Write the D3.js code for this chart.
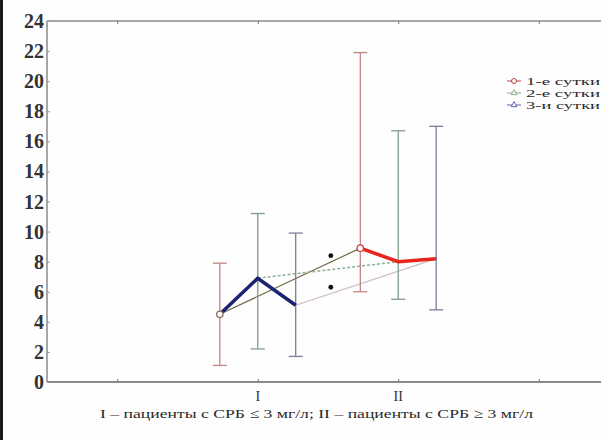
<!DOCTYPE html>
<html>
<head>
<meta charset="utf-8">
<script src="https://cdn.jsdelivr.net/npm/d3@7"></script>
<style>
  body { margin: 0; background: #fff; }
  svg { display: block; }
  text { font-family: "Liberation Serif", "Times New Roman", serif; }
</style>
</head>
<body>
<div id="grafica"></div>
<script>
// datos
var grupos = [1, 2];                 // I, II
var grupoEtiquetas = ["I", "II"];
var seriesNombres = ["1-е сутки", "2-е сутки", "3-и сутки"];
var medias = [[4.5, 8.9], [6.9, 8.0], [5.1, 8.2]];
var superiores = [[7.9, 21.9], [11.2, 16.7], [9.9, 17.0]];
var inferiores = [[1.1, 6.0], [2.2, 5.5], [1.7, 4.8]];
var asteriscos = [8.4, 6.3];
var yTicks = [0, 2, 4, 6, 8, 10, 12, 14, 16, 18, 20, 22, 24];
var xTicks = [0, 1, 2, 3];
var pie = "I – пациенты с СРБ ≤ 3 мг/л; II – пациенты с СРБ ≥ 3 мг/л";

var width = 601, height = 440;
var desplaz = [-0.27, 0, 0.27];
var colorBarra = ["#bf8585", "#7f9e86", "#7d7d9c"];
var colorLinea = ["#76684a", "#8fae90", "#cdb9c2"];
var colorLeyenda = ["#c04040", "#80b080", "#6060b0"];

var svg = d3.select("#grafica")
  .append("svg")
  .attr("width", width)
  .attr("height", height);

svg.append("rect").attr("width", width).attr("height", height).attr("fill", "#fefefe");
// franja oscura del borde izquierdo
svg.append("rect").attr("x", 0).attr("y", 0).attr("width", 3).attr("height", height).attr("fill", "#1a1a1a");

var x = d3.scaleLinear().domain([-0.5, 3.5]).range([47, 609]);
var y = d3.scaleLinear().domain([0, 24]).range([382, 21]);

// marco
svg.append("line").attr("x1", x(-0.5)).attr("x2", width).attr("y1", y(24)).attr("y2", y(24))
  .attr("stroke", "#8a8a8a").attr("stroke-width", 1.5);
svg.append("line").attr("x1", x(-0.5)).attr("x2", width).attr("y1", y(0)).attr("y2", y(0))
  .attr("stroke", "#8a8a8a").attr("stroke-width", 2);
svg.append("line").attr("x1", x(-0.5)).attr("x2", x(-0.5)).attr("y1", y(24)).attr("y2", y(0))
  .attr("stroke", "#8a8a8a").attr("stroke-width", 1.5);

// eje y
var ejeY = svg.append("g").attr("transform", "translate(" + x(-0.5) + ",0)")
  .call(d3.axisRight(y).tickValues(yTicks).tickSize(3).tickFormat(""));
ejeY.select(".domain").remove();
ejeY.selectAll("line").attr("stroke", "#999");
svg.selectAll("ylab")
  .data(yTicks)
  .enter()
  .append("text")
  .attr("x", x(-0.5) - 3)
  .attr("y", function (d) { return y(d); })
  .attr("text-anchor", "end")
  .attr("dominant-baseline", "central")
  .style("font-size", "20px")
  .style("font-weight", "bold")
  .style("fill", "#333")
  .text(function (d) { return d; });

// marcas de x arriba y abajo
svg.append("g").attr("transform", "translate(0," + y(0) + ")")
  .call(d3.axisTop(x).tickValues(xTicks).tickSize(3).tickFormat(""))
  .call(function (g) { g.select(".domain").remove(); g.selectAll("line").attr("stroke", "#777"); });
svg.append("g").attr("transform", "translate(0," + y(24) + ")")
  .call(d3.axisBottom(x).tickValues(xTicks).tickSize(3).tickFormat(""))
  .call(function (g) { g.select(".domain").remove(); g.selectAll("line").attr("stroke", "#777"); });

svg.selectAll("xlab")
  .data(grupos)
  .enter()
  .append("text")
  .attr("x", function (d) { return x(d); })
  .attr("y", 396)
  .attr("text-anchor", "middle")
  .attr("dominant-baseline", "central")
  .style("font-size", "14px")
  .style("fill", "#333")
  .text(function (d, i) { return grupoEtiquetas[i]; });

svg.append("text")
  .attr("x", 100)
  .attr("y", 413)
  .attr("dominant-baseline", "central")
  .attr("textLength", 433)
  .attr("lengthAdjust", "spacingAndGlyphs")
  .style("font-size", "13px")
  .style("fill", "#2a2a2a")
  .text(pie);

// líneas finas entre grupos I y II para cada día
seriesNombres.forEach(function (s, k) {
  svg.append("line")
    .attr("x1", x(grupos[0] + desplaz[k])).attr("y1", y(medias[k][0]))
    .attr("x2", x(grupos[1] + desplaz[k])).attr("y2", y(medias[k][1]))
    .attr("stroke", colorLinea[k])
    .attr("stroke-width", k === 1 ? 1.5 : 1.2)
    .attr("stroke-dasharray", k === 1 ? "3,2" : null);
});

// barras de error
seriesNombres.forEach(function (s, k) {
  grupos.forEach(function (g, j) {
    var cx = x(g + desplaz[k]);
    var gb = svg.append("g").attr("stroke", colorBarra[k]).attr("stroke-width", 1.3);
    gb.append("line").attr("x1", cx).attr("x2", cx).attr("y1", y(superiores[k][j])).attr("y2", y(inferiores[k][j]));
    gb.append("line").attr("x1", cx - 7).attr("x2", cx + 7).attr("y1", y(superiores[k][j])).attr("y2", y(superiores[k][j]));
    gb.append("line").attr("x1", cx - 7).attr("x2", cx + 7).attr("y1", y(inferiores[k][j])).attr("y2", y(inferiores[k][j]));
  });
});

// líneas gruesas dentro de cada grupo
var lineaGrupo = d3.line()
  .x(function (d) { return x(d.x); })
  .y(function (d) { return y(d.v); });
var coloresGrupo = ["#1c2370", "#e8241c"];
grupos.forEach(function (g, j) {
  var pts = seriesNombres.map(function (s, k) { return { x: g + desplaz[k], v: medias[k][j] }; });
  svg.append("path")
    .datum(pts)
    .attr("d", lineaGrupo)
    .attr("fill", "none")
    .attr("stroke", coloresGrupo[j])
    .attr("stroke-width", 3.5)
    .attr("stroke-linejoin", "miter");
});

// marcadores del primer día
grupos.forEach(function (g, j) {
  svg.append("circle")
    .attr("cx", x(g + desplaz[0]))
    .attr("cy", y(medias[0][j]))
    .attr("r", 3.2)
    .attr("fill", "#fff")
    .attr("stroke", j === 0 ? "#8a6a60" : "#d04040")
    .attr("stroke-width", 1.3);
});

// asteriscos de significación
svg.selectAll("ast")
  .data(asteriscos)
  .enter()
  .append("circle")
  .attr("cx", x(1.52))
  .attr("cy", function (d) { return y(d); })
  .attr("r", 2.4)
  .attr("fill", "#111");

// leyenda
var leyenda = svg.append("g");
seriesNombres.forEach(function (s, k) {
  var ly = 81 + k * 12;
  leyenda.append("line").attr("x1", 507).attr("x2", 521).attr("y1", ly).attr("y2", ly)
    .attr("stroke", colorLeyenda[k]).attr("stroke-width", 1);
  if (k === 0) {
    leyenda.append("circle").attr("cx", 514).attr("cy", ly).attr("r", 2.5)
      .attr("fill", "#fff").attr("stroke", colorLeyenda[k]);
  } else {
    leyenda.append("path")
      .attr("d", d3.symbol().type(d3.symbolTriangle).size(14))
      .attr("transform", "translate(514," + ly + ")")
      .attr("fill", "#fff").attr("stroke", colorLeyenda[k]);
  }
  leyenda.append("text")
    .attr("x", 526)
    .attr("y", ly)
    .attr("dominant-baseline", "central")
    .attr("textLength", 74)
    .attr("lengthAdjust", "spacingAndGlyphs")
    .style("font-size", "10.8px")
    .style("fill", "#2a2a2a")
    .text(s);
});
</script>
</body>
</html>
